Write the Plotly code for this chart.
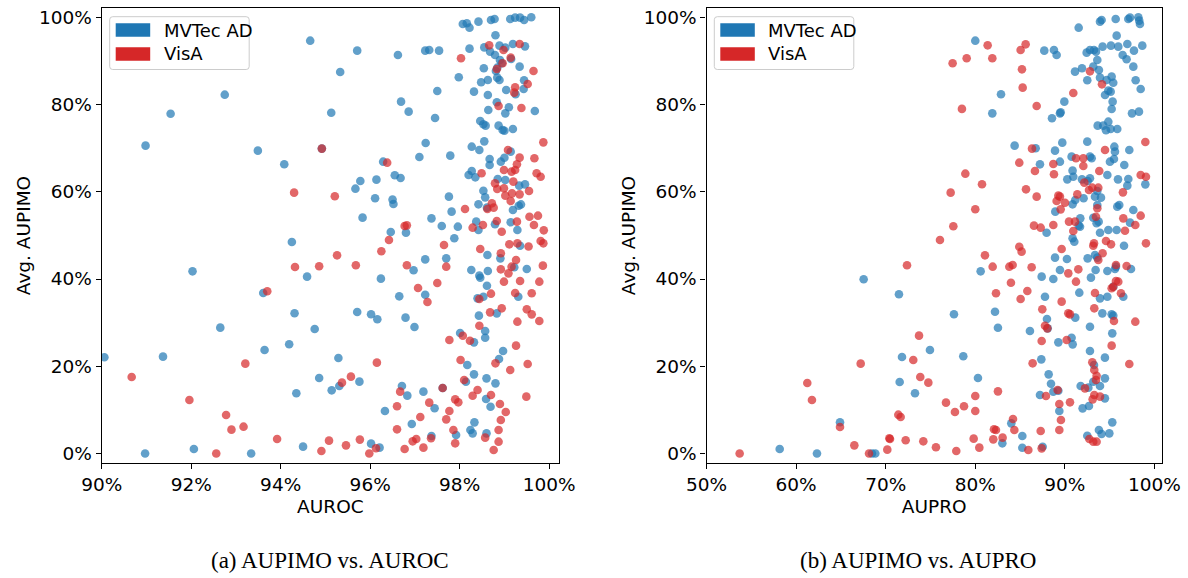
import plotly.graph_objects as go

# ---------------- data (percent) ----------------
auroc_mvtec = [94.66,95.71,96.62,97.23,97.32,97.54,95.33,92.75,97.50,91.54,95.13,96.69,96.86,97.45,90.98,93.49,94.92,97.24,94.08,96.29,97.10,96.55,96.68,95.78,96.14,95.67,96.11,96.50,96.52,97.37,95.83,96.46,96.80,
    94.25,92.03,94.59,96.24,93.61,96.97,97.23,97.23,96.65,94.31,95.71,96.02,96.16,96.79,96.99,92.65,94.76,94.19,93.64,90.06,91.37,95.29,94.86,94.35,95.14,95.31,95.76,96.71,96.83,97.19,97.44,96.33,96.93,97.37,94.50,92.06,90.97,93.34,96.02,96.21,
    98.07,98.16,98.22,98.42,98.70,98.78,99.13,99.24,99.35,99.44,99.60,98.80,98.22,98.55,98.68,98.79,98.89,99.02,99.19,99.46,98.90,98.94,99.15,99.34,98.54,98.84,98.81,97.98,98.48,98.63,98.84,98.89,99.44,98.32,99.04,99.25,99.43,98.63,98.83,99.10,99.02,98.64,99.68,98.46,98.53,98.58,98.87,98.96,99.00,99.19,98.55,98.27,98.44,99.14,
    97.79,98.67,98.67,98.92,99.00,98.27,98.20,98.35,98.85,99.02,99.33,99.46,98.53,98.57,97.76,97.82,98.42,98.61,99.19,99.32,99.37,97.60,97.96,98.37,98.42,98.79,99.14,99.29,97.88,99.35,97.70,98.62,98.91,99.22,99.50,98.26,98.44,98.46,98.63,98.61,98.40,98.53,99.31,
    98.43,98.83,98.57,98.57,98.01,98.32,98.97,98.88,98.17,98.32,98.14,98.60,98.80,97.62,98.59,98.69,98.33,98.24,98.29,98.60,97.92]
aupimo_mvtec_a = [94.64,92.35,91.36,92.35,92.50,92.35,87.46,82.26,83.10,77.90,78.10,80.66,78.37,76.90,70.57,69.43,69.90,71.18,66.30,66.90,67.97,63.77,63.16,62.47,62.78,60.71,58.50,58.20,57.20,53.90,54.07,50.78,50.63,
    48.49,41.76,40.54,40.08,36.80,42.00,44.50,36.40,36.03,32.14,32.44,31.91,30.76,31.14,29.00,28.85,28.54,25.03,23.73,22.05,22.20,21.89,17.31,13.80,14.48,15.48,16.47,15.48,13.26,14.18,10.36,9.75,6.77,4.02,1.57,1.03,0.00,0.00,2.26,1.34,
    98.46,98.62,97.62,99.00,99.38,99.61,99.61,99.92,99.92,99.38,100.0,95.87,92.81,93.10,92.12,91.36,93.50,93.04,93.88,93.34,90.20,89.45,90.44,88.68,88.30,88.45,87.69,86.24,85.09,85.63,86.16,85.63,85.55,82.95,83.33,82.34,83.56,82.19,80.51,79.36,77.98,78.75,78.52,76.23,75.46,75.16,75.16,74.16,74.00,74.39,71.56,70.34,69.58,69.20,
    68.28,67.50,66.14,66.90,67.80,64.76,63.85,63.31,62.93,62.70,61.40,61.70,60.25,58.72,58.88,55.44,57.12,56.36,55.82,56.80,57.10,52.15,52.00,53.15,51.24,52.54,53.00,51.24,49.33,47.64,44.74,45.50,44.74,42.68,42.30,42.07,40.77,40.30,41.84,38.47,35.57,35.95,35.95,
    31.60,32.13,28.08,26.55,27.62,25.48,23.50,21.66,20.28,18.14,16.46,17.23,16.08,15.01,12.49,10.73,7.14,5.38,4.62,4.62,4.24]

auroc_visa = [94.92,96.38,94.30,95.21,96.77,96.82,
    96.42,96.25,95.26,94.32,94.86,95.68,96.82,97.50,97.07,97.28,93.70,93.21,96.15,90.67,95.57,95.37,96.67,97.32,96.60,91.96,92.78,92.90,93.17,97.12,96.60,93.92,95.08,95.46,95.77,96.95,97.03,97.36,97.19,96.77,94.91,96.13,95.98,92.56,
    98.66,99.34,98.98,98.03,99.14,98.96,98.83,99.65,99.52,99.24,99.22,98.87,99.38,99.87,99.08,
    99.34,99.67,99.28,99.24,99.16,98.99,98.49,99.72,99.81,99.20,98.79,98.84,98.99,99.02,99.17,99.34,99.55,98.12,98.62,98.72,98.76,99.14,99.56,99.75,99.66,99.88,99.28,98.83,98.52,98.29,98.94,97.65,99.11,99.29,99.54,99.81,99.87,98.46,98.92,99.26,97.70,99.16,99.09,98.92,99.86,98.99,99.35,99.78,98.70,98.44,99.24,99.61,
    98.68,98.94,99.50,99.61,99.78,99.29,98.44,97.77,98.07,98.23,99.26,98.02,98.80,99.52,99.13,98.10,98.40,98.29,98.70,99.49,97.62,97.90,97.97,98.90,99.03,97.77,97.70,98.92,97.86,98.87,98.57,97.90,98.87,98.76]
aupimo_visa_a = [69.90,66.67,59.80,58.96,52.15,52.30,
    48.95,46.35,45.43,42.76,42.91,43.14,43.14,39.09,37.94,34.73,37.18,20.60,20.83,17.54,17.62,16.24,14.18,11.66,10.82,12.27,8.83,5.47,6.15,8.37,5.54,3.33,2.95,1.87,3.18,2.79,3.33,3.48,1.34,1.03,0.57,1.19,0.00,0.00,
    93.57,93.88,92.50,90.60,90.75,89.45,88.15,87.69,84.71,83.95,82.72,79.66,79.21,71.33,69.58,
    67.82,67.67,66.29,64.99,64.61,64.99,64.23,64.23,63.46,62.32,61.93,60.64,60.79,59.11,59.64,59.41,60.18,56.05,56.05,57.35,56.36,57.88,54.29,54.52,52.38,51.16,53.15,53.30,52.38,51.77,50.85,47.80,47.95,48.18,47.45,48.71,48.18,46.88,45.89,44.36,42.83,42.83,41.30,42.22,43.06,39.39,39.54,39.39,36.64,35.42,36.79,36.72,
    32.36,33.28,33.05,31.90,30.37,30.22,29.30,26.02,27.01,25.86,24.72,21.43,20.67,20.51,19.14,16.85,14.55,13.25,13.41,13.03,15.01,12.41,11.73,11.34,9.51,9.74,7.83,7.68,5.38,5.38,3.63,2.33,2.71,0.80]

aupro_mvtec = [80.00,67.54,71.48,80.60,77.62,74.94,71.82,78.66,71.56,80.30,73.27,64.90,58.17,62.33,68.47,68.84,
    91.54,93.92,94.10,95.67,97.08,97.27,98.20,98.30,98.38,95.78,87.70,88.78,89.08,92.43,92.80,93.25,93.47,94.21,95.14,95.96,96.97,97.71,98.64,96.45,96.89,93.62,93.17,91.91,91.13,93.80,97.64,92.50,93.92,94.66,95.22,95.40,97.90,98.46,94.85,95.11,94.48,95.33,95.22,82.87,89.94,89.53,89.45,88.56,97.49,98.27,81.90,93.66,94.29,94.85,94.59,95.11,95.85,84.39,86.74,88.90,89.71,92.50,95.52,95.59,97.19,
    87.22,89.45,90.75,92.80,92.99,95.03,95.48,96.63,90.86,90.94,90.27,91.91,92.80,92.54,94.74,95.93,97.08,96.97,98.98,93.62,94.03,93.36,92.09,91.16,90.86,93.62,95.85,96.07,97.64,88.93,91.72,91.54,91.69,93.17,93.54,93.77,97.27,93.92,94.85,95.78,87.96,90.86,91.05,96.60,93.36,92.54,93.62,88.90,90.23,89.45,87.41,88.71,93.43,92.91,94.74,95.70,95.59,97.38,91.61,95.40,93.92,94.74,87.78,96.52,
    82.20,82.53,86.10,88.00,88.08,91.16,94.18,95.22,95.40,92.80,95.29,89.27,90.75,90.87,92.80,94.47,87.37,93.25,88.19,88.45,88.71,89.27,87.22,91.76,92.62,93.17,93.92,94.47,94.47,91.98,92.69,89.38,84.02,95.29,93.80,94.10,94.96,92.50,85.25,83.02,85.25,87.52]
aupimo_mvtec_b = [94.64,39.93,36.49,41.76,31.91,23.73,22.12,22.28,16.40,17.31,13.80,7.15,1.03,0.00,0.00,0.00,
    97.62,99.00,99.38,99.61,99.61,99.92,100.0,99.23,98.46,95.79,92.35,92.50,91.36,91.89,92.50,92.50,92.12,93.27,93.50,93.27,93.88,92.35,93.50,91.36,90.37,90.21,88.68,88.30,87.54,87.92,88.68,85.55,86.16,85.63,86.39,85.00,85.55,83.56,83.18,82.95,82.19,80.66,78.98,82.34,80.66,78.21,77.98,76.84,77.98,78.37,77.98,75.16,75.16,76.07,74.09,74.39,74.39,70.57,69.96,69.43,71.26,71.49,70.34,69.20,69.58,
    66.29,66.90,68.05,68.05,67.67,66.90,67.51,66.14,64.84,63.46,62.85,62.85,63.08,62.47,63.85,62.85,62.93,61.40,61.70,60.18,58.65,58.88,58.50,58.11,57.12,56.97,56.59,56.97,55.82,55.44,53.91,52.23,52.00,54.06,52.77,53.15,52.92,50.62,51.24,51.24,50.62,49.33,48.56,47.64,45.50,44.74,44.90,44.90,44.59,42.07,40.54,40.00,42.07,40.31,41.84,42.83,42.30,42.30,36.87,38.24,35.57,35.95,35.95,35.95,
    32.51,28.84,28.08,30.83,28.69,31.14,32.13,31.90,31.60,29.07,27.54,25.48,26.55,25.02,23.50,21.97,21.58,20.28,18.14,16.00,14.17,14.40,13.41,15.47,15.09,16.46,15.47,17.23,12.64,10.35,10.89,9.74,6.91,7.14,5.38,4.46,4.62,4.08,4.01,2.33,1.33,1.56]

aupro_visa = [81.38,79.04,77.47,78.51,78.89,80.75,77.25,80.00,77.55,
    76.06,81.08,72.38,73.72,73.08,67.21,73.86,74.76,61.25,61.77,80.00,76.73,77.73,78.74,80.00,71.41,71.67,64.90,70.41,70.48,72.23,74.20,79.82,66.50,75.61,70.18,77.88,80.45,53.70,68.14,
    85.62,85.06,81.90,85.21,85.29,86.85,90.94,92.80,94.14,98.98,86.33,94.48,
    84.91,86.66,88.71,88.78,91.24,92.06,92.06,93.84,92.17,92.69,93.06,93.73,85.66,86.85,89.27,89.45,89.08,90.01,89.53,91.39,93.62,93.47,96.48,98.46,99.05,96.52,98.46,97.86,86.55,87.30,88.71,90.46,91.13,90.94,96.71,93.25,93.17,94.59,95.15,99.05,84.91,85.17,89.64,94.21,93.73,81.94,83.80,84.17,86.29,90.38,91.50,95.70,96.89,83.98,91.24,95.70,95.96,95.40,85.81,82.31,85.06,89.64,93.36,96.26,95.22,
    87.48,90.38,90.57,93.28,95.48,97.86,87.78,88.04,87.41,90.20,95.22,97.19,86.40,93.06,93.28,93.54,93.47,92.24,89.19,87.89,93.28,93.92,93.10,82.53,89.38,90.57,89.56,84.21,84.36,82.09,82.31,87.30,89.38,82.01,83.05,85.92,87.41,92.73,93.17,93.54]
aupimo_visa_b = [93.57,90.60,89.45,79.00,64.15,61.71,59.80,55.98,52.08,
    48.95,45.43,43.14,27.02,21.44,20.60,17.54,16.24,16.16,12.27,13.18,11.66,9.52,10.82,9.75,8.90,8.37,6.08,3.48,3.33,3.02,2.79,3.40,1.87,1.42,0.88,0.57,1.34,0.00,0.00,
    93.80,92.50,90.60,88.07,83.87,79.66,82.64,87.61,84.63,71.41,69.89,69.58,
    66.67,64.76,66.37,64.00,67.67,67.67,65.91,64.76,62.09,60.41,60.94,60.94,60.56,58.88,59.11,58.88,57.88,57.50,55.97,59.41,56.21,54.29,59.87,63.85,63.46,53.91,54.52,52.38,52.23,51.77,52.38,53.15,53.15,51.01,51.08,48.18,47.64,48.71,47.95,48.18,47.41,46.27,46.88,45.89,44.36,42.83,42.83,43.21,42.68,41.30,42.22,43.21,42.98,39.16,39.39,39.54,39.39,38.24,37.25,36.72,35.42,34.81,36.79,36.72,37.87,
    33.05,32.13,31.90,33.28,30.37,30.22,29.30,28.69,25.79,26.02,24.72,20.51,20.67,20.90,19.14,17.84,16.85,14.93,14.55,13.18,13.41,13.03,12.41,14.25,11.34,11.73,7.68,7.91,5.38,5.54,5.38,5.15,5.38,3.24,3.63,0.80,1.18,3.32,2.71,2.71]

series_names = ["MVTec AD", "VisA"]
series_colors = ["#1f77b4", "#d62728"]
y_ticks = [0, 20, 40, 60, 80, 100]
x_ticks_a = [90, 92, 94, 96, 98, 100]
x_ticks_b = [50, 60, 70, 80, 90, 100]

def pct_labels(vals):
    return [f"{v}%" for v in vals]

# ---------------- figure ----------------
W, H = 1188, 578
def PX(x): return x / W
def PY(y): return 1 - y / H

fig = go.Figure()
mk = dict(size=8.6, opacity=0.7, line=dict(width=0))
fig.add_trace(go.Scatter(x=auroc_mvtec, y=aupimo_mvtec_a, mode="markers", marker=dict(color=series_colors[0], **mk),
                         xaxis="x", yaxis="y", showlegend=False, name=series_names[0]))
fig.add_trace(go.Scatter(x=auroc_visa, y=aupimo_visa_a, mode="markers", marker=dict(color=series_colors[1], **mk),
                         xaxis="x", yaxis="y", showlegend=False, name=series_names[1]))
fig.add_trace(go.Scatter(x=aupro_mvtec, y=aupimo_mvtec_b, mode="markers", marker=dict(color=series_colors[0], **mk),
                         xaxis="x2", yaxis="y2", showlegend=False, name=series_names[0]))
fig.add_trace(go.Scatter(x=aupro_visa, y=aupimo_visa_b, mode="markers", marker=dict(color=series_colors[1], **mk),
                         xaxis="x2", yaxis="y2", showlegend=False, name=series_names[1]))

tickfont = dict(family="DejaVu Sans", size=18.5, color="black")
axcommon = dict(showline=True, mirror=True, linecolor="black", linewidth=1.2, ticks="outside",
                ticklen=5, tickwidth=1.1, tickcolor="black", showgrid=False, zeroline=False,
                tickfont=tickfont, automargin=False)

ydom = [PY(462.7), PY(8.3)]
fig.update_layout(
    width=W, height=H, margin=dict(l=0, r=0, t=0, b=0),
    paper_bgcolor="white", plot_bgcolor="white",
    xaxis=dict(domain=[PX(101.7), PX(559)], range=[90, 100.22], tickmode="array",
               tickvals=x_ticks_a, ticktext=pct_labels(x_ticks_a), anchor="y",
               title=dict(text="AUROC", font=tickfont, standoff=6), **axcommon),
    yaxis=dict(domain=ydom, range=[-2.11, 102.06], tickmode="array",
               tickvals=y_ticks, ticktext=pct_labels(y_ticks), anchor="x",
               title=dict(text="Avg. AUPIMO", font=tickfont, standoff=3), **axcommon),
    xaxis2=dict(domain=[PX(706.5), PX(1162)], range=[50, 100.84], tickmode="array",
                tickvals=x_ticks_b, ticktext=pct_labels(x_ticks_b), anchor="y2",
                title=dict(text="AUPRO", font=tickfont, standoff=6), **axcommon),
    yaxis2=dict(domain=ydom, range=[-2.11, 102.06], tickmode="array",
                tickvals=y_ticks, ticktext=pct_labels(y_ticks), anchor="x2",
                title=dict(text="Avg. AUPIMO", font=tickfont, standoff=3), **axcommon),
)

# manual legends (patch-style, like the reference)
def rounded_rect(x0, y0, x1, y1, r):
    return (f"M {PX(x0 + r)},{PY(y0)} L {PX(x1 - r)},{PY(y0)} Q {PX(x1)},{PY(y0)} {PX(x1)},{PY(y0 + r)} "
            f"L {PX(x1)},{PY(y1 - r)} Q {PX(x1)},{PY(y1)} {PX(x1 - r)},{PY(y1)} "
            f"L {PX(x0 + r)},{PY(y1)} Q {PX(x0)},{PY(y1)} {PX(x0)},{PY(y1 - r)} "
            f"L {PX(x0)},{PY(y0 + r)} Q {PX(x0)},{PY(y0)} {PX(x0 + r)},{PY(y0)} Z")

shapes = []
annotations = []
for bx in (109.7, 714.3):
    shapes.append(dict(type="path", path=rounded_rect(bx, 16.7, bx + 139.5, 69.5, 3), xref="paper", yref="paper",
                       line=dict(color="#cccccc", width=1), fillcolor="rgba(255,255,255,0.8)", layer="above"))
    for i, (nm, col) in enumerate(zip(series_names, series_colors)):
        y0 = 23.3 + i * 24
        shapes.append(dict(type="rect", x0=PX(bx + 6), x1=PX(bx + 40.5), y0=PY(y0), y1=PY(y0 + 13.4),
                           xref="paper", yref="paper", line=dict(width=0), fillcolor=col, layer="above"))
        annotations.append(dict(x=PX(bx + 52), y=PY(y0 + 6.7), xref="paper", yref="paper", text=nm,
                                showarrow=False, xanchor="left", yanchor="middle",
                                font=dict(family="DejaVu Sans", size=18, color="black")))

captions = ["(a) AUPIMO vs. AUROC", "(b) AUPIMO vs. AUPRO"]
for cx, cap in zip((330, 918), captions):
    annotations.append(dict(x=PX(cx), y=PY(560), xref="paper", yref="paper", text=cap, showarrow=False,
                            xanchor="center", yanchor="middle",
                            font=dict(family="Liberation Serif", size=23, color="black")))

fig.update_layout(shapes=shapes, annotations=annotations)
fig.write_html("out.html")
